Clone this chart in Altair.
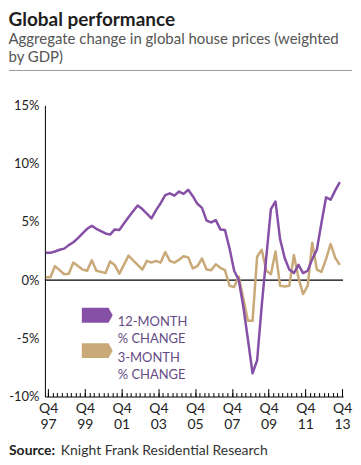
import json
import altair as alt
import pandas as pd

# ---------------- data ----------------
SERIES = ["12-MONTH % CHANGE", "3-MONTH % CHANGE"]
LEGEND_TEXT = ["12-MONTH|% CHANGE", "3-MONTH|% CHANGE"]
COLORS = ["#8650a6", "#c9a978"]
YEARS = ["97", "99", "01", "03", "05", "07", "09", "11", "13"]  # Q4 labels
Y_TICKS = [-10, -5, 0, 5, 10, 15]

# quarterly, Q4 1997 .. Q4 2013
CHANGE_12M = [2.35, 2.35, 2.45, 2.6, 2.7, 3.0, 3.25, 3.6, 4.0, 4.4,
              4.65, 4.4, 4.2, 4.0, 3.9, 4.35, 4.3, 4.85, 5.4, 5.9,
              6.4, 6.1, 5.7, 5.3, 6.0, 6.6, 7.3, 7.45, 7.25, 7.6,
              7.4, 7.75, 7.2, 6.55, 6.2, 5.1, 4.95, 5.15, 4.35, 4.3,
              2.7, 0.8, 0.0, -2.3, -5.1, -8.0, -6.9, -2.2, 2.0, 6.1,
              6.75, 3.5, 1.9, 0.9, 0.6, 1.3, 0.6, 0.8, 1.8, 2.6,
              4.9, 7.1, 6.9, 7.7, 8.4]
CHANGE_3M = [0.25, 0.25, 1.2, 0.85, 0.5, 0.55, 1.5, 1.2, 0.9, 0.8,
             1.7, 0.8, 0.7, 0.6, 1.6, 1.3, 0.55, 1.3, 2.1, 1.7,
             1.3, 0.9, 1.65, 1.5, 1.65, 1.5, 2.4, 1.65, 1.5, 1.75,
             2.05, 1.95, 1.0, 1.2, 1.85, 0.9, 0.85, 1.35, 1.05, 0.85,
             -0.5, -0.6, 0.3, -1.6, -3.5, -3.5, 2.0, 2.6, 0.8, 0.5,
             2.45, -0.5, -0.55, -0.5, 2.15, 0.2, -1.2, -0.5, 3.2, 0.9,
             0.7, 1.8, 3.1, 1.9, 1.3]

TITLE = "Global performance"
SUBTITLE = ["Aggregate change in global house prices (weighted", "by GDP)"]
SOURCE_LABEL = "Source:"
SOURCE_TEXT = "Knight Frank Residential Research"

n = len(CHANGE_12M)
df = pd.DataFrame({
    "q": list(range(n)) * 2,
    "series": [SERIES[1]] * n + [SERIES[0]] * n,
    "value": CHANGE_3M + CHANGE_12M,
})
leg = pd.DataFrame({"series": SERIES, "text": LEGEND_TEXT})
one = pd.DataFrame({"t": [SOURCE_LABEL]})
two = pd.DataFrame({"t": [SOURCE_TEXT]})

# ---------------- layout / style ----------------
W, H = 299, 292
FONT = "Lato"
INK = "#222222"
major = [0.5 + 8 * k for k in range(len(YEARS))]
minor = [0.5 + k for k in range(n)]
x_scale = alt.Scale(domain=[-0.2, n - 0.3], nice=False, zero=False)
y_scale = alt.Scale(domain=[Y_TICKS[0], Y_TICKS[-1]], nice=False, zero=False)
color_scale = alt.Scale(domain=SERIES, range=COLORS)
legend_row = alt.Scale(domain=SERIES, range=[210.5, 246], padding=0)
x_label_expr = "['Q4', " + json.dumps(YEARS) + "[round((datum.value - 0.5) / 8)]]"
ARROW = "M-1,-0.48L0.73,-0.48L1,0L0.73,0.48L-1,0.48Z"

zero = alt.Chart(one).mark_rule(color="#000000", strokeWidth=1.3).encode(
    y=alt.YDatum(0, scale=y_scale, axis=None)
)

lines = alt.Chart(df).mark_line(strokeWidth=2.5, strokeJoin="round").encode(
    x=alt.X("q:Q", scale=x_scale, axis=alt.Axis(
        orient="bottom", values=major, labelExpr=x_label_expr, ticks=False,
        domainColor="#000000", domainWidth=1, labelFont=FONT, labelFontSize=14,
        labelColor=INK, labelLineHeight=16, labelBaseline="top", labelPadding=5,
        labelFlush=False, labelOverlap=False, labelAngle=0, grid=False, title=None)),
    y=alt.Y("value:Q", scale=y_scale, axis=alt.Axis(
        orient="left", values=Y_TICKS, labelExpr="datum.value + '%'", ticks=False,
        domainColor="#000000", domainWidth=1, labelFont=FONT, labelFontSize=13,
        labelColor=INK, labelPadding=6, labelFlush=False, labelOverlap=False,
        grid=False, title=None)),
    color=alt.Color("series:N", scale=color_scale, legend=None),
)

# legend drawn as marks: arrow swatches + two-line labels
leg_swatch = alt.Chart(leg).mark_point(
    shape=ARROW, filled=True, size=961, opacity=1, strokeWidth=0
).encode(
    x=alt.value(52.5),
    y=alt.Y("series:N", scale=legend_row, axis=None),
    fill=alt.Fill("series:N", scale=color_scale, legend=None),
)
leg_text = alt.Chart(leg).mark_text(
    align="left", baseline="middle", lineBreak="|", lineHeight=17, dy=7,
    font=FONT, fontSize=13, color="#654b84"
).encode(
    x=alt.value(73),
    y=alt.Y("series:N", scale=legend_row, axis=None),
    text="text:N",
)

def tick_layer(vals, size):
    return alt.Chart(df).mark_point(opacity=0).encode(
        x=alt.X("q:Q", scale=x_scale, axis=alt.Axis(
            orient="top", offset=-H, values=vals, labels=False, domain=False,
            ticks=True, tickSize=size, tickColor="#000000", tickWidth=1,
            grid=False, title=None)),
        y=alt.Y("value:Q", scale=y_scale, axis=None),
    )

minor_ticks = tick_layer(minor, 4)
major_ticks = tick_layer(major, 8)

separator = alt.Chart(one).mark_rule(color="#9a9a9a", strokeWidth=1).encode(
    x=alt.value(-36), x2=alt.value(308), y=alt.value(-35)
)
src1 = alt.Chart(one).mark_text(align="left", baseline="alphabetic", font=FONT,
                                fontSize=14, fontWeight="bold", color=INK).encode(
    text="t:N", x=alt.value(-36), y=alt.value(351))
src2 = alt.Chart(two).mark_text(align="left", baseline="alphabetic", font=FONT,
                                fontSize=14, color="#333333").encode(
    text="t:N", x=alt.value(16), y=alt.value(351))

chart = alt.layer(zero, lines, leg_swatch, leg_text, minor_ticks, major_ticks,
                  separator, src1, src2).resolve_axis(
    x="independent", y="independent"
).resolve_scale(
    y="independent"
).properties(
    width=W, height=H,
    padding={"left": 0, "top": 2, "right": 0, "bottom": 0},
    title=alt.TitleParams(
        text=TITLE, subtitle=SUBTITLE, anchor="start", frame="bounds",
        font=FONT, fontSize=19, fontWeight="bold", color="#1e1e1e",
        subtitleFont=FONT, subtitleFontSize=15, subtitleColor="#555555",
        subtitleLineHeight=18, subtitlePadding=2, offset=5),
).configure_view(stroke=None)

chart.save("out.html", embed_options={"renderer": "svg", "actions": False})
